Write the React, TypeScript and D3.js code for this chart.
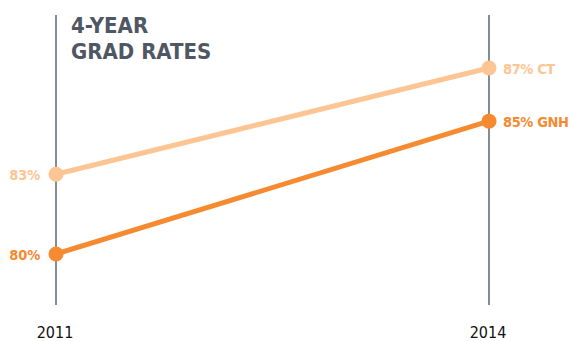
import React from "react";
import * as d3 from "d3";

const years = ["2011", "2014"];
const ctValues = [83, 87];
const gnhValues = [80, 85];
const seriesNames = ["CT", "GNH"];
const titleLines = ["4-YEAR", "GRAD RATES"];

const W = 570;
const H = 341;

export default function App() {
  const x = d3.scalePoint<string>().domain(years).range([56, 489]);
  const y = d3.scaleLinear().domain([80, 87]).range([254, 68]);
  const line = d3
    .line<number>()
    .x((_, i) => x(years[i]) as number)
    .y((d) => y(d));
  const series = [
    { name: seriesNames[0], values: ctValues, color: "#fdc593" },
    { name: seriesNames[1], values: gnhValues, color: "#f68a31" },
  ];
  const font = "'DejaVu Sans Condensed', 'Roboto', sans-serif";
  return (
    <svg
      width={W}
      height={H}
      style={{ position: "absolute", left: 0, top: 0 }}
      fontFamily={font}
    >
      <rect width={W} height={H} fill="#fff" />
      {years.map((yr) => (
        <g key={yr}>
          <line
            x1={x(yr)}
            x2={x(yr)}
            y1={15}
            y2={305}
            stroke="#5b6470"
            strokeWidth={1.5}
          />
          <text
            x={(x(yr) as number) - 1}
            y={338}
            textAnchor="middle"
            fontSize={16}
            fill="#111"
          >
            {yr}
          </text>
        </g>
      ))}
      {titleLines.map((t, i) => (
        <text
          key={t}
          x={71}
          y={33 + i * 25.5}
          fontSize={22}
          fontWeight={700}
          fill="#4e5763"
        >
          {t}
        </text>
      ))}
      {series.map((s) => (
        <g key={s.name}>
          <path
            d={line(s.values) || ""}
            fill="none"
            stroke={s.color}
            strokeWidth={5}
          />
          {s.values.map((v, i) => (
            <circle key={i} cx={x(years[i])} cy={y(v)} r={7.5} fill={s.color} />
          ))}
          <text
            x={(x(years[0]) as number) - 16}
            y={y(s.values[0]) + 5.5}
            textAnchor="end"
            fontSize={14.5}
            fontWeight={700}
            letterSpacing={-0.2}
            fill={s.color}
          >
            {s.values[0]}%
          </text>
          <text
            x={(x(years[1]) as number) + 14}
            y={y(s.values[1]) + 5.5}
            textAnchor="start"
            fontSize={14.5}
            fontWeight={700}
            letterSpacing={-0.4}
            fill={s.color}
          >
            {s.values[1]}% {s.name}
          </text>
        </g>
      ))}
    </svg>
  );
}
